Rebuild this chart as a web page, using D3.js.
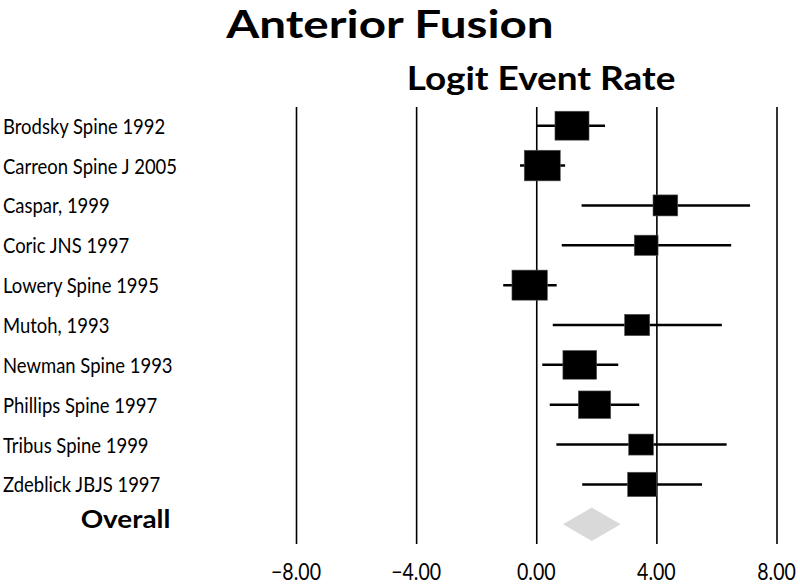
<!DOCTYPE html>
<html>
<head>
<meta charset="utf-8">
<script src="https://cdn.jsdelivr.net/npm/d3@7"></script>
<style>
  html, body { margin: 0; padding: 0; background: #fff; }
  svg { display: block; }
  text { font-family: Lato, "Open Sans", sans-serif; fill: #000; }
</style>
</head>
<body>
<div id="chart"></div>
<script>
// ---- data ----
const studies = ["Brodsky Spine 1992", "Carreon Spine J 2005", "Caspar, 1999", "Coric JNS 1997",
  "Lowery Spine 1995", "Mutoh, 1993", "Newman Spine 1993", "Phillips Spine 1997",
  "Tribus Spine 1999", "Zdeblick JBJS 1997"];
const logitPoint = [1.19, 0.20, 4.30, 3.66, -0.22, 3.36, 1.45, 1.94, 3.49, 3.52];
const logitLower = [0.01, -0.54, 1.51, 0.85, -1.10, 0.55, 0.20, 0.45, 0.67, 1.53];
const logitUpper = [2.29, 0.96, 7.12, 6.49, 0.68, 6.18, 2.73, 3.43, 6.34, 5.52];
const relWeight  = [12.7, 14.2, 6.7, 6.2, 13.7, 6.9, 12.5, 11.5, 6.7, 9.0];
const overallLabel = "Overall";
const overall = { point: 1.85, lower: 0.89, upper: 2.81 };
const tickValues = [-8, -4, 0, 4, 8];
const titleText = "Anterior Fusion";
const subtitleText = "Logit Event Rate";

// ---- layout ----
const W = 800, H = 585;
const svg = d3.select("#chart").append("svg").attr("width", W).attr("height", H);

const x = d3.scaleLinear().domain([-8, 8]).range([296, 776.5]);
const y = d3.scalePoint().domain([...studies, overallLabel]).range([125.7, 524.3]);
const boxW = d3.scaleSqrt().domain([0, d3.max(relWeight)]).range([0, 36]);
const boxAspect = 0.85;
const gridTop = 107, gridBottom = 544;

// helper: horizontally scaled text
function addText(str, px, py, opts) {
  return svg.append("text")
    .attr("transform", `translate(${px},${py}) scale(${opts.sx},1)`)
    .attr("text-anchor", opts.anchor || "start")
    .style("font-size", opts.size + "px")
    .style("font-weight", opts.weight || "normal")
    .text(str);
}

// titles
addText(titleText, 390, 38, { sx: 1.27, size: 37.5, weight: "bold", anchor: "middle" });
addText(subtitleText, 541, 89.5, { sx: 1.12, size: 33, weight: "bold", anchor: "middle" });

// vertical reference lines via axis
const axis = d3.axisBottom(x).tickValues(tickValues).tickSize(-(gridBottom - gridTop)).tickFormat("");
const gAxis = svg.append("g").attr("transform", `translate(0,${gridBottom})`).call(axis);
gAxis.select(".domain").remove();
gAxis.selectAll(".tick line").attr("stroke", "#000").attr("stroke-width", 1.6);

// tick labels
tickValues.forEach(v => {
  addText(d3.format(".2f")(v), x(v), 579.5, { sx: 0.85, size: 23, anchor: "middle" });
});

// study rows
const rows = studies.map((s, i) => ({
  name: s, p: logitPoint[i], lo: logitLower[i], hi: logitUpper[i], w: relWeight[i]
}));

svg.append("g").selectAll("line").data(rows).join("line")
  .attr("x1", d => x(d.lo)).attr("x2", d => x(d.hi))
  .attr("y1", d => y(d.name)).attr("y2", d => y(d.name))
  .attr("stroke", "#000").attr("stroke-width", 2.5);

svg.append("g").selectAll("rect").data(rows).join("rect")
  .attr("x", d => x(d.p) - boxW(d.w) / 2)
  .attr("y", d => y(d.name) - boxW(d.w) * boxAspect / 2)
  .attr("width", d => boxW(d.w))
  .attr("height", d => boxW(d.w) * boxAspect)
  .attr("fill", "#000").attr("stroke", "#555").attr("stroke-width", 0.6);

// labels
rows.forEach(d => {
  addText(d.name, 3, y(d.name) + 8, { sx: 0.84, size: 22 });
});

// overall
const oy = y(overallLabel);
const dh = 16.7;
svg.append("path")
  .attr("d", d3.line()([[x(overall.lower), oy], [x(overall.point), oy - dh], [x(overall.upper), oy], [x(overall.point), oy + dh]]) + "Z")
  .attr("fill", "#d9d9d9");
addText(overallLabel, 125.5, 528, { sx: 1.16, size: 24, weight: "bold", anchor: "middle" });
</script>
</body>
</html>
